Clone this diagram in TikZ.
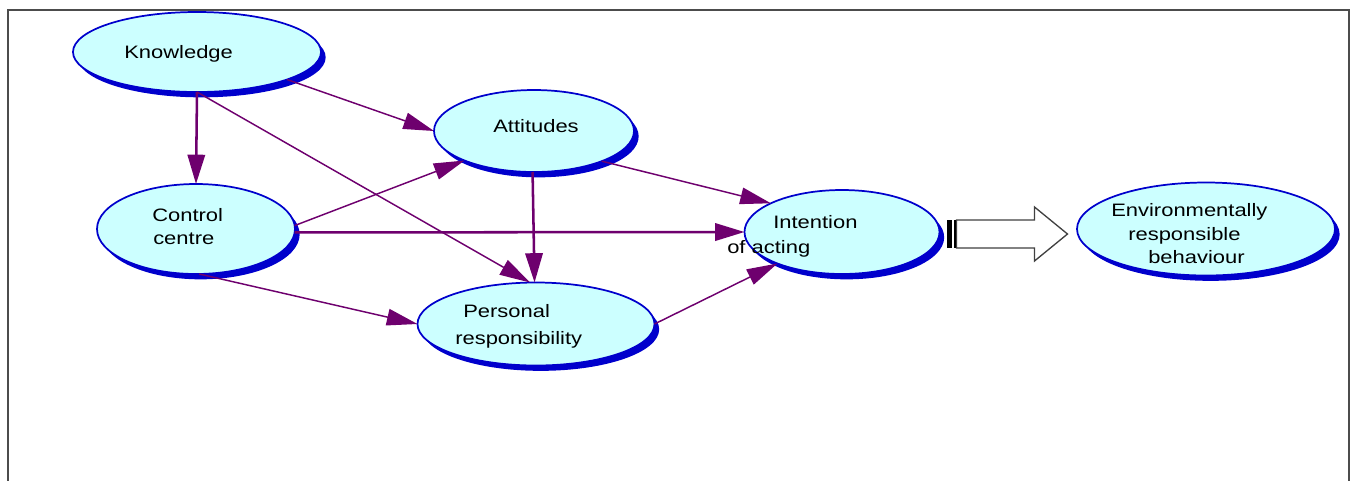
\documentclass[tikz,border=0pt]{standalone}
\usepackage{fontspec}
\setmainfont{Liberation Sans}[FakeStretch=1.22]
\usetikzlibrary{shapes.geometric,arrows.meta,shadows,calc}
\definecolor{bubblefill}{HTML}{CCFFFF}
\definecolor{bubbleline}{HTML}{0000CC}
\definecolor{linkcol}{HTML}{6E006E}
\tikzset{
  bubble/.style={ellipse, draw=bubbleline, line width=1.3pt, fill=bubblefill,
    inner sep=0pt, outer sep=0pt,
    drop shadow={fill=bubbleline, opacity=1, shadow xshift=3.5pt, shadow yshift=-4pt}},
  bsize/.style 2 args={minimum width=#1*0.75pt, minimum height=#2*0.75pt},
  lbl/.style={anchor=base west, inner sep=0pt, text=black,
    font=\fontsize{13.5pt}{16pt}\selectfont},
  thinlink/.style={draw=linkcol, line width=1.1pt,
    -{Triangle[length=23pt,width=12.5pt]}},
  thicklink/.style={draw=linkcol, line width=1.9pt,
    -{Triangle[length=22pt,width=13pt]}},
  bigarrow/.style={draw=black!75, line width=1pt, fill=white}
}
\begin{document}
\begin{tikzpicture}[x=0.75pt,y=-0.75pt]
    \useasboundingbox (0,0) rectangle (1354,480);
    %% frame
    \draw[black!70, line width=1.6pt] (8,481) -- (8,10) -- (1349,10) -- (1349,481);
    %% bubbles
    \node[bubble, bsize={248}{80}] (kno) at (197,52) {};
    \node[bubble, bsize={200}{82}] (att) at (534,131) {};
    \node[bubble, bsize={198}{90}] (ctl) at (196,229) {};
    \node[bubble, bsize={237}{83}] (per) at (536,324) {};
    \node[bubble, bsize={195}{84}] (int) at (842,232) {};
    \node[bubble, bsize={258}{93}] (env) at (1206,229) {};
    %% texts
    \node[lbl] (kno-t) at (124,58) {Knowledge};
    \node[lbl] (att-t) at (493,132) {Attitudes};
    \node[lbl] (ctl-t1) at (152,221) {Control};
    \node[lbl] (ctl-t2) at (153,244) {centre};
    \node[lbl] (per-t1) at (463,317) {Personal};
    \node[lbl] (per-t2) at (455,344) {responsibility};
    \node[lbl] (int-t1) at (773,228) {Intention};
    \node[lbl] (int-t2) at (727,253) {of acting};
    \node[lbl] (env-t1) at (1111,216) {Environmentally};
    \node[lbl] (env-t2) at (1128,240) {responsible};
    \node[lbl] (env-t3) at (1148,263) {behaviour};
    %% links
    \draw[thicklink] (kno.-90) -- (ctl.90);
    \draw[thinlink] (kno.-17) -- (att.180);
    \draw[thinlink] (kno.-90) -- (per.98);
    \draw[thinlink] (ctl.2) -- (att.203);
    \draw[thicklink] (ctl.-2) -- (int.west);
    \draw[thinlink] (ctl.-86) -- (per.west);
    \draw[thicklink] (att.-92) -- (per.92);
    \draw[thinlink] (att.-24) -- (int.158);
    \draw[thinlink] (per.east) -- (int.206);
    %% big hollow arrow
    \draw[bigarrow] ($(int.east)+(17,-12)$) -- ++(78,0) -- ++(0,-13)
        -- ($(int.east)+(128,2)$) -- ($(int.east)+(95,29)$) -- ++(0,-13)
        -- ($(int.east)+(17,16)$) -- cycle;
    \fill[black] ($(int.east)+(7,-12)$) rectangle ($(int.east)+(12,16)$);
    \fill[black] ($(int.east)+(14.5,-12)$) rectangle ($(int.east)+(16.5,16)$);
\end{tikzpicture}
\end{document}
